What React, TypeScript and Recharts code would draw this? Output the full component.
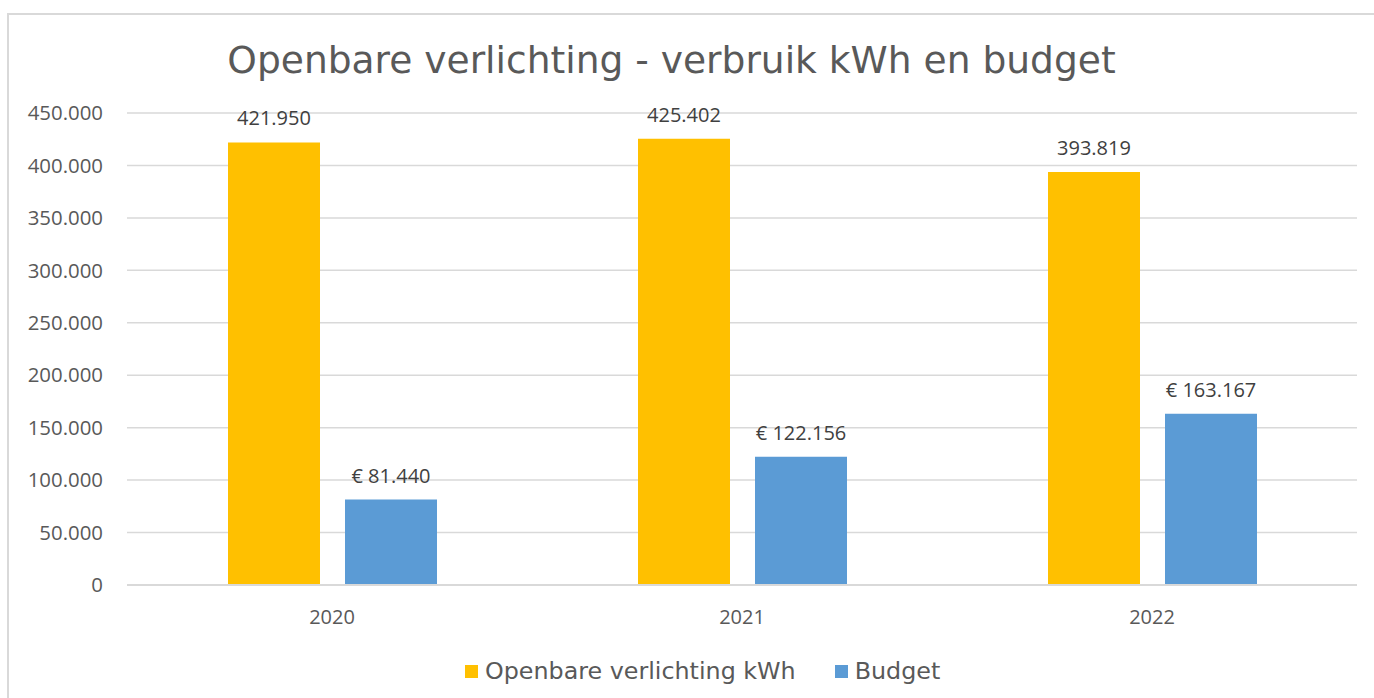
import { Bar, BarChart, CartesianGrid, LabelList, Legend, XAxis, YAxis } from "recharts";

const years = ["2020", "2021", "2022"];
const kwhValues = [421950, 425402, 393819];
const budgetValues = [81440, 122156, 163167];
const yTicks = [0, 50000, 100000, 150000, 200000, 250000, 300000, 350000, 400000, 450000];

const data = years.map((year, i) => ({
  year,
  kwh: kwhValues[i],
  budget: budgetValues[i],
}));

const nl = (v: number) => v.toLocaleString("nl-NL");

const legendItems = [
  { label: "Openbare verlichting kWh", color: "#FFC000" },
  { label: "Budget", color: "#5B9BD5" },
];

function ChartLegend() {
  return (
    <div style={{ display: "flex", alignItems: "center", fontFamily: "DejaVu Sans", fontSize: 23.8, color: "#595959", paddingTop: 2 }}>
      {legendItems.map((item, i) => (
        <div key={item.label} style={{ display: "flex", alignItems: "center", marginRight: i === 0 ? 39 : 0 }}>
          <span style={{ width: 13, height: 13, background: item.color, marginRight: 7, display: "inline-block" }} />
          <span>{item.label}</span>
        </div>
      ))}
    </div>
  );
}

export default function App() {
  return (
    <div style={{ position: "absolute", left: 0, top: 0, width: 1374, height: 698, background: "#fff" }}>
      <div style={{ position: "absolute", left: 8, top: 13, width: 1366, height: 2, background: "#d9d9d9" }} />
      <div style={{ position: "absolute", left: 7, top: 13, width: 2, height: 685, background: "#d9d9d9" }} />
      <div
        style={{
          position: "absolute",
          left: 0,
          width: 1343,
          top: 38,
          textAlign: "center",
          fontFamily: "DejaVu Sans",
          fontSize: 37.6,
          color: "#595959",
          lineHeight: "44px",
        }}
      >
        Openbare verlichting - verbruik kWh en budget
      </div>
      <BarChart
        width={1374}
        height={698}
        data={data}
        margin={{ top: 113, right: 17, left: 10, bottom: 13 }}
        barSize={92}
        barGap={25}
        style={{ position: "absolute", left: 0, top: 0 }}
      >
        <CartesianGrid vertical={false} stroke="#d9d9d9" strokeWidth={1.5} />
        <XAxis
          dataKey="year"
          height={70}
          tickLine={false}
          tickSize={0}
          tickMargin={25}
          axisLine={{ stroke: "#d9d9d9", strokeWidth: 2 }}
          tick={{ fill: "#595959", fontSize: 20, fontFamily: "Open Sans" }}
        />
        <YAxis
          width={117}
          domain={[0, 450000]}
          ticks={yTicks}
          tickFormatter={nl}
          tickLine={false}
          axisLine={false}
          tickSize={0}
          tickMargin={24}
          tick={{ fill: "#595959", fontSize: 20.4, fontFamily: "Open Sans" }}
        />
        <Legend verticalAlign="bottom" height={30} content={() => <ChartLegend />} wrapperStyle={{ left: 465, width: "auto" }} />
        <Bar dataKey="kwh" fill="#FFC000" isAnimationActive={false}>
          <LabelList
            dataKey="kwh"
            position="top"
            offset={17}
            formatter={(v: number) => nl(v)}
            style={{ fill: "#404040", fontSize: 20, fontFamily: "Open Sans" }}
          />
        </Bar>
        <Bar dataKey="budget" fill="#5B9BD5" isAnimationActive={false}>
          <LabelList
            dataKey="budget"
            position="top"
            offset={17}
            formatter={(v: number) => "€ " + nl(v)}
            style={{ fill: "#404040", fontSize: 20, fontFamily: "Open Sans" }}
          />
        </Bar>
      </BarChart>
    </div>
  );
}
